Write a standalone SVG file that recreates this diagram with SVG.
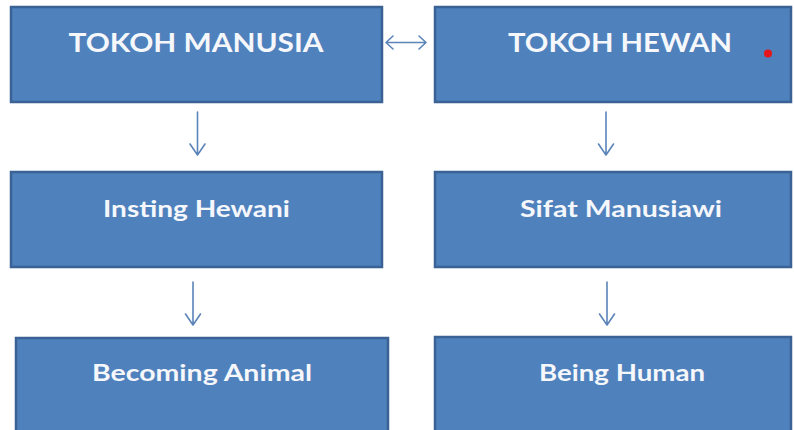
<svg xmlns="http://www.w3.org/2000/svg" width="794" height="430" viewBox="0 0 794 430">
  <defs>
    <style>
      .box { fill: #4F81BD; stroke: #3A6294; stroke-width: 2.5; }
      .t1 { font-family: Lato, "Open Sans", "Liberation Sans", sans-serif; font-weight: bold; font-size: 27px; fill: #F5F7FB; text-anchor: middle; }
      .t2 { font-family: Lato, "Open Sans", "Liberation Sans", sans-serif; font-weight: bold; font-size: 23.5px; fill: #F5F7FB; text-anchor: middle; }
      .conn { stroke: #5B84B8; stroke-width: 1.6; fill: none; stroke-linecap: round; stroke-linejoin: round; }
    </style>
  </defs>
  <rect x="0" y="0" width="794" height="430" fill="#FFFFFF"/>

  <g id="connectors">
    <!-- double arrow between top boxes -->
    <path class="conn" d="M386 42.5 H426 M393 36 L386 42.5 L393 49 M419 36 L426 42.5 L419 49"/>
    <!-- down arrows -->
    <path class="conn" d="M197.5 112 V155 M190 144 L197.5 155 L205 144"/>
    <path class="conn" d="M606 112 V155 M598.5 144 L606 155 L613.5 144"/>
    <path class="conn" d="M193 282 V325 M185.5 314 L193 325 L200.5 314"/>
    <path class="conn" d="M607 282 V325 M599.5 314 L607 325 L614.5 314"/>
  </g>

  <g id="tokoh-manusia">
    <rect class="box" x="11" y="7" width="371" height="95"/>
    <text class="t1" x="196" y="52" textLength="255" lengthAdjust="spacingAndGlyphs">TOKOH MANUSIA</text>
  </g>
  <g id="tokoh-hewan">
    <rect class="box" x="435" y="7" width="356" height="95"/>
    <text class="t1" x="620" y="52" textLength="224" lengthAdjust="spacingAndGlyphs">TOKOH HEWAN</text>
    <circle cx="768" cy="53.5" r="4" fill="#E8161B"/>
  </g>
  <g id="insting-hewani">
    <rect class="box" x="11" y="172" width="371" height="95"/>
    <text class="t2" x="196.5" y="217" textLength="187" lengthAdjust="spacingAndGlyphs">Insting Hewani</text>
  </g>
  <g id="sifat-manusiawi">
    <rect class="box" x="435" y="172" width="356" height="95"/>
    <text class="t2" x="621" y="217" textLength="202" lengthAdjust="spacingAndGlyphs">Sifat Manusiawi</text>
  </g>
  <g id="becoming-animal">
    <rect class="box" x="16" y="338" width="372" height="100"/>
    <text class="t2" x="202" y="381" textLength="220" lengthAdjust="spacingAndGlyphs">Becoming Animal</text>
  </g>
  <g id="being-human">
    <rect class="box" x="435" y="337" width="356" height="100"/>
    <text class="t2" x="622" y="381" textLength="166" lengthAdjust="spacingAndGlyphs">Being Human</text>
  </g>
</svg>
